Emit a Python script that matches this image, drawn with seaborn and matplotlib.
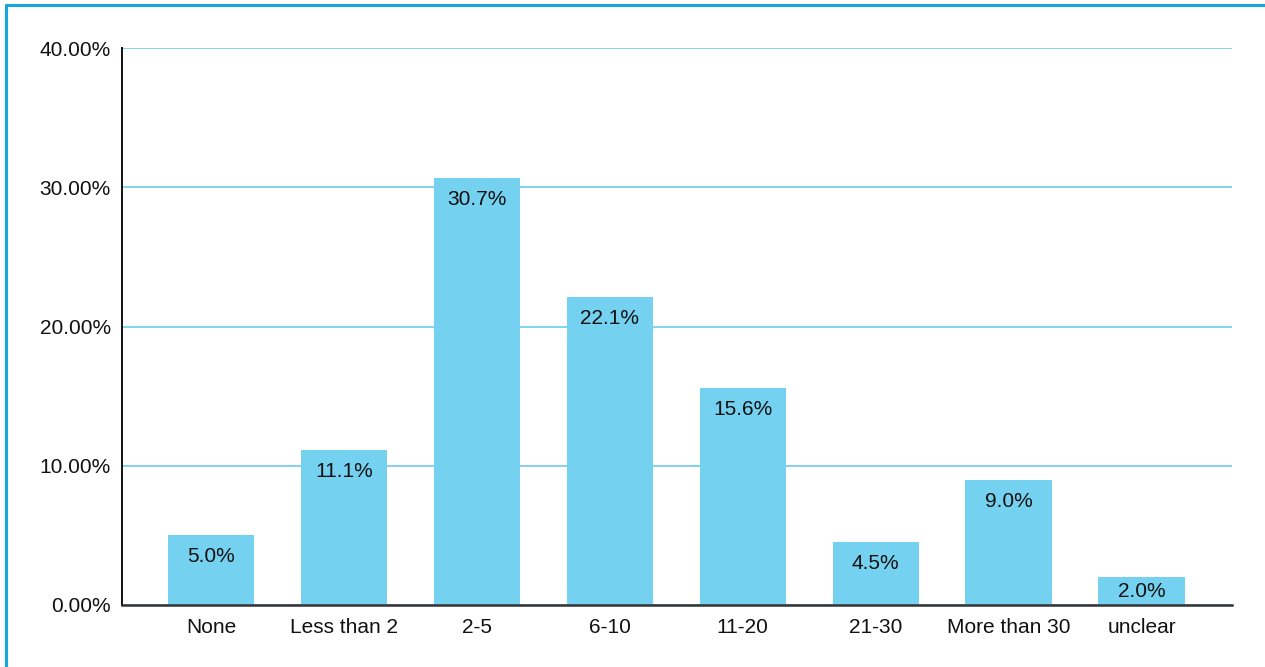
import matplotlib
matplotlib.use("Agg")
import matplotlib.pyplot as plt
import seaborn as sns
import pandas as pd
from matplotlib.ticker import FuncFormatter

categories = ["None", "Less than 2", "2-5", "6-10", "11-20", "21-30", "More than 30", "unclear"]
shares = [5.0, 11.1, 30.7, 22.1, 15.6, 4.5, 9.0, 2.0]
y_ticks = [0, 10, 20, 30, 40]

df = pd.DataFrame({"category": categories, "share": shares})

sns.set_theme(style="white")
plt.rcParams["font.family"] = ["Liberation Sans", "DejaVu Sans"]

fig = plt.figure(figsize=(12.65, 6.67), dpi=100)
ax = fig.add_axes([122 / 1265, 1 - 605 / 667, (1232 - 122) / 1265, (605 - 48) / 667])

bar_color = "#74D1F0"
sns.barplot(data=df, x="category", y="share", color=bar_color, saturation=1,
            width=0.65, linewidth=0, ax=ax, zorder=3)

ax.set_xlim(-0.67, len(categories) - 1 + 0.68)
ax.set_ylim(0, 40)
ax.set_yticks(y_ticks)
ax.yaxis.set_major_formatter(FuncFormatter(lambda v, p: f"{v:.2f}%"))
ax.grid(axis="y", color="#82D3EF", linewidth=1.4, zorder=0)
ax.set_axisbelow(True)

for s in ["top", "right"]:
    ax.spines[s].set_visible(False)
ax.spines["left"].set_color("#111111")
ax.spines["left"].set_linewidth(1.4)
ax.spines["bottom"].set_color("#333333")
ax.spines["bottom"].set_linewidth(1.8)
ax.spines["bottom"].set_zorder(4)

ax.set_xlabel("")
ax.set_ylabel("")
ax.tick_params(axis="both", length=0, labelsize=15, colors="#111111")
ax.tick_params(axis="x", pad=9.5)
ax.tick_params(axis="y", pad=8)

# value labels just inside the top of each bar; short bars get a centred label
fig.canvas.draw()
for patch, val in zip(ax.patches, shares):
    cx = patch.get_x() + patch.get_width() / 2
    top = ax.transData.transform((cx, val))[1]
    base = ax.transData.transform((cx, 0))[1]
    half_pt = (top - base) / 2 * 72 / fig.dpi
    offset = -min(15.5, half_pt)
    ax.annotate(f"{val:.1f}%", xy=(cx, val), xytext=(0, offset), textcoords="offset points",
                ha="center", va="center", fontsize=15, color="#111111", zorder=5)

# frame lines along top and left edges of the figure
fig.add_artist(plt.Line2D([6 / 1265, 1], [1 - 5 / 667, 1 - 5 / 667],
                          transform=fig.transFigure, color="#14A8DC", linewidth=2.2))
fig.add_artist(plt.Line2D([6 / 1265, 6 / 1265], [0, 1 - 5 / 667],
                          transform=fig.transFigure, color="#14A8DC", linewidth=2.2))

fig.savefig("out.png", dpi=100, facecolor="white")
